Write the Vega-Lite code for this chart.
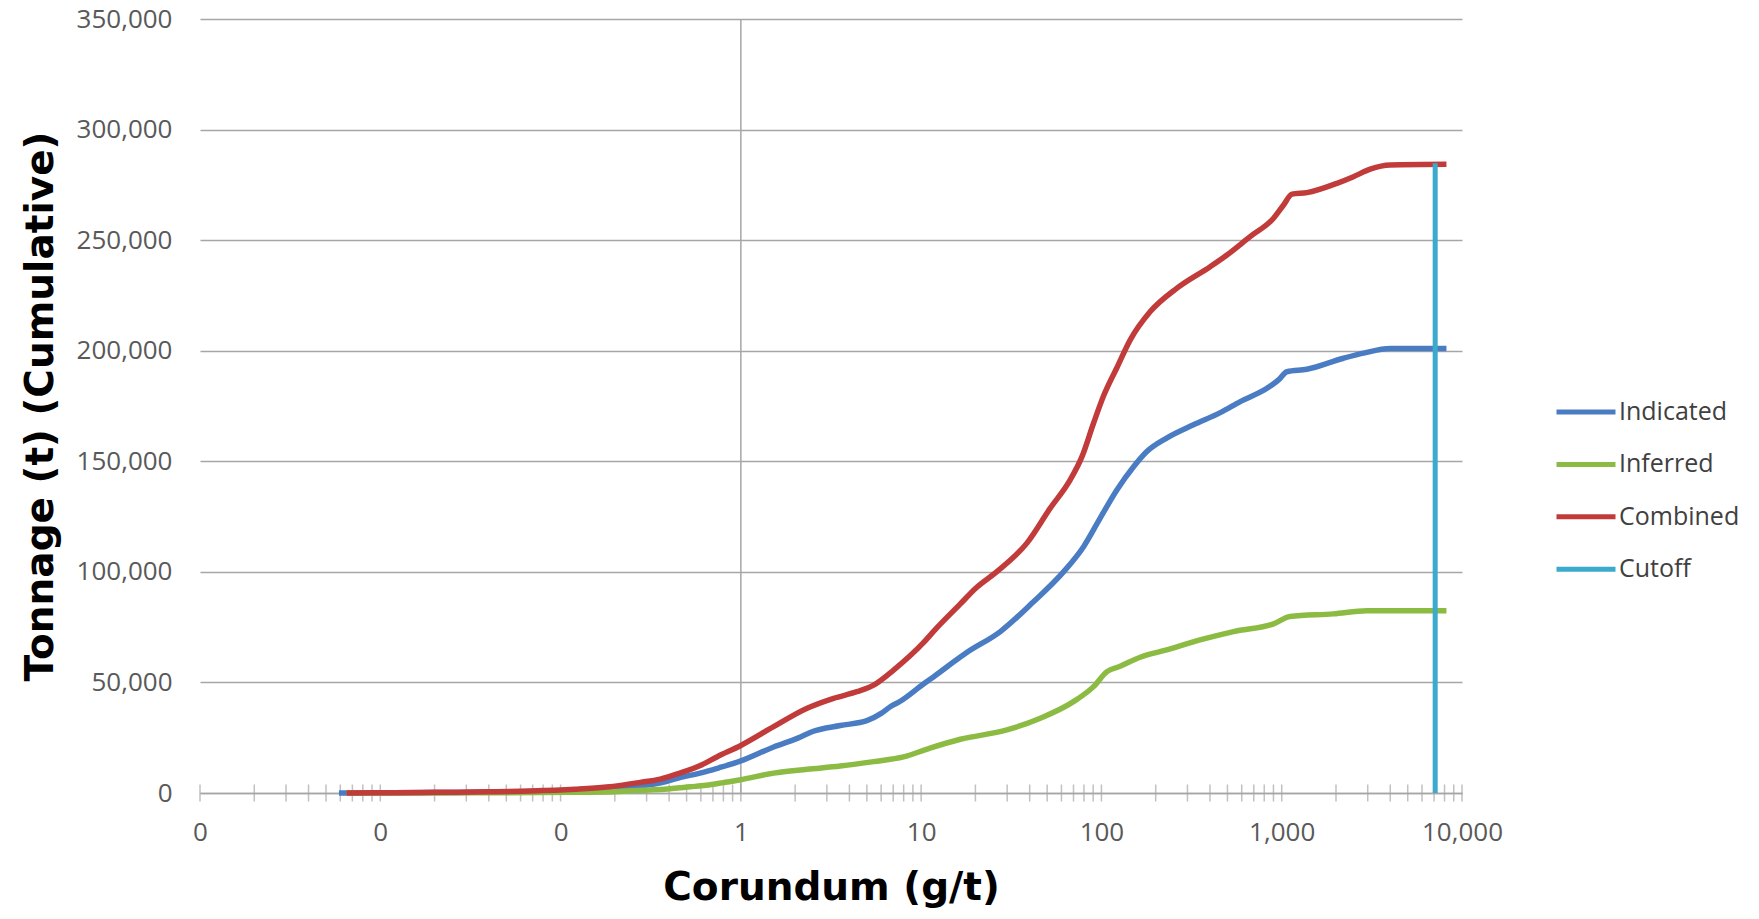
{
  "$schema": "https://vega.github.io/schema/vega-lite/v6.json",
  "width": 1262,
  "height": 774,
  "autosize": {"type": "none"},
  "padding": {"left": 200, "top": 19, "right": 297, "bottom": 126},
  "background": "white",
  "config": {"view": {"stroke": null}, "font": "Open Sans"},
  "datasets": {
    "curves": [
      {"series": "Indicated", "grade": 0.0059, "tonnage": 0},
      {"series": "Indicated", "grade": 0.012, "tonnage": 80},
      {"series": "Indicated", "grade": 0.02, "tonnage": 200},
      {"series": "Indicated", "grade": 0.04, "tonnage": 400},
      {"series": "Indicated", "grade": 0.07, "tonnage": 650},
      {"series": "Indicated", "grade": 0.12, "tonnage": 1200},
      {"series": "Indicated", "grade": 0.18, "tonnage": 1900},
      {"series": "Indicated", "grade": 0.28, "tonnage": 3300},
      {"series": "Indicated", "grade": 0.36, "tonnage": 4600},
      {"series": "Indicated", "grade": 0.45, "tonnage": 6800},
      {"series": "Indicated", "grade": 0.61, "tonnage": 9200},
      {"series": "Indicated", "grade": 0.75, "tonnage": 11300},
      {"series": "Indicated", "grade": 1, "tonnage": 14500},
      {"series": "Indicated", "grade": 1.52, "tonnage": 20800},
      {"series": "Indicated", "grade": 2.07, "tonnage": 24800},
      {"series": "Indicated", "grade": 2.5, "tonnage": 27800},
      {"series": "Indicated", "grade": 3.56, "tonnage": 30500},
      {"series": "Indicated", "grade": 5, "tonnage": 32700},
      {"series": "Indicated", "grade": 6, "tonnage": 36000},
      {"series": "Indicated", "grade": 6.74, "tonnage": 39000},
      {"series": "Indicated", "grade": 7.66, "tonnage": 41500},
      {"series": "Indicated", "grade": 10.3, "tonnage": 49300},
      {"series": "Indicated", "grade": 11.7, "tonnage": 52500},
      {"series": "Indicated", "grade": 16.5, "tonnage": 61500},
      {"series": "Indicated", "grade": 17.9, "tonnage": 63500},
      {"series": "Indicated", "grade": 27.5, "tonnage": 73000},
      {"series": "Indicated", "grade": 42, "tonnage": 86500},
      {"series": "Indicated", "grade": 61.6, "tonnage": 100000},
      {"series": "Indicated", "grade": 79.6, "tonnage": 111400},
      {"series": "Indicated", "grade": 98.4, "tonnage": 124300},
      {"series": "Indicated", "grade": 121.8, "tonnage": 137000},
      {"series": "Indicated", "grade": 150.7, "tonnage": 147500},
      {"series": "Indicated", "grade": 178.6, "tonnage": 154400},
      {"series": "Indicated", "grade": 230, "tonnage": 160500},
      {"series": "Indicated", "grade": 324, "tonnage": 166500},
      {"series": "Indicated", "grade": 456, "tonnage": 172000},
      {"series": "Indicated", "grade": 589, "tonnage": 177000},
      {"series": "Indicated", "grade": 828, "tonnage": 183000},
      {"series": "Indicated", "grade": 960, "tonnage": 186800},
      {"series": "Indicated", "grade": 1069, "tonnage": 190500},
      {"series": "Indicated", "grade": 1380, "tonnage": 191600},
      {"series": "Indicated", "grade": 2200, "tonnage": 196600},
      {"series": "Indicated", "grade": 2840, "tonnage": 198900},
      {"series": "Indicated", "grade": 4000, "tonnage": 201000},
      {"series": "Indicated", "grade": 8200, "tonnage": 201000},
      {"series": "Inferred", "grade": 0.0065, "tonnage": 0},
      {"series": "Inferred", "grade": 0.02, "tonnage": 50},
      {"series": "Inferred", "grade": 0.05, "tonnage": 120},
      {"series": "Inferred", "grade": 0.11, "tonnage": 300},
      {"series": "Inferred", "grade": 0.2, "tonnage": 600},
      {"series": "Inferred", "grade": 0.28, "tonnage": 1200},
      {"series": "Inferred", "grade": 0.374, "tonnage": 1700},
      {"series": "Inferred", "grade": 0.524, "tonnage": 2800},
      {"series": "Inferred", "grade": 0.64, "tonnage": 3500},
      {"series": "Inferred", "grade": 0.8, "tonnage": 4700},
      {"series": "Inferred", "grade": 1, "tonnage": 6000},
      {"series": "Inferred", "grade": 1.52, "tonnage": 9000},
      {"series": "Inferred", "grade": 2.33, "tonnage": 10700},
      {"series": "Inferred", "grade": 3.56, "tonnage": 12200},
      {"series": "Inferred", "grade": 5.45, "tonnage": 14200},
      {"series": "Inferred", "grade": 7.98, "tonnage": 16300},
      {"series": "Inferred", "grade": 11.2, "tonnage": 20300},
      {"series": "Inferred", "grade": 16.5, "tonnage": 24300},
      {"series": "Inferred", "grade": 29.9, "tonnage": 28500},
      {"series": "Inferred", "grade": 45.8, "tonnage": 33800},
      {"series": "Inferred", "grade": 70, "tonnage": 41300},
      {"series": "Inferred", "grade": 90.4, "tonnage": 48100},
      {"series": "Inferred", "grade": 107.4, "tonnage": 54900},
      {"series": "Inferred", "grade": 127, "tonnage": 57300},
      {"series": "Inferred", "grade": 164, "tonnage": 61400},
      {"series": "Inferred", "grade": 230, "tonnage": 64700},
      {"series": "Inferred", "grade": 352, "tonnage": 69200},
      {"series": "Inferred", "grade": 540, "tonnage": 73000},
      {"series": "Inferred", "grade": 901, "tonnage": 76500},
      {"series": "Inferred", "grade": 1114, "tonnage": 79800},
      {"series": "Inferred", "grade": 1937, "tonnage": 81000},
      {"series": "Inferred", "grade": 2965, "tonnage": 82400},
      {"series": "Inferred", "grade": 8200, "tonnage": 82400},
      {"series": "Combined", "grade": 0.0065, "tonnage": 0},
      {"series": "Combined", "grade": 0.012, "tonnage": 120},
      {"series": "Combined", "grade": 0.02, "tonnage": 300},
      {"series": "Combined", "grade": 0.04, "tonnage": 550},
      {"series": "Combined", "grade": 0.068, "tonnage": 900},
      {"series": "Combined", "grade": 0.12, "tonnage": 1700},
      {"series": "Combined", "grade": 0.18, "tonnage": 2700},
      {"series": "Combined", "grade": 0.277, "tonnage": 4800},
      {"series": "Combined", "grade": 0.357, "tonnage": 6300},
      {"series": "Combined", "grade": 0.45, "tonnage": 8800},
      {"series": "Combined", "grade": 0.609, "tonnage": 12800},
      {"series": "Combined", "grade": 0.736, "tonnage": 16300},
      {"series": "Combined", "grade": 1, "tonnage": 21500},
      {"series": "Combined", "grade": 1.52, "tonnage": 30000},
      {"series": "Combined", "grade": 2.33, "tonnage": 38300},
      {"series": "Combined", "grade": 3.27, "tonnage": 42800},
      {"series": "Combined", "grade": 4.4, "tonnage": 45800},
      {"series": "Combined", "grade": 5.45, "tonnage": 48800},
      {"series": "Combined", "grade": 7.03, "tonnage": 55600},
      {"series": "Combined", "grade": 10.3, "tonnage": 68000},
      {"series": "Combined", "grade": 12, "tonnage": 74000},
      {"series": "Combined", "grade": 16.5, "tonnage": 85500},
      {"series": "Combined", "grade": 20, "tonnage": 92500},
      {"series": "Combined", "grade": 26.3, "tonnage": 100100},
      {"series": "Combined", "grade": 38.6, "tonnage": 113000},
      {"series": "Combined", "grade": 52, "tonnage": 128800},
      {"series": "Combined", "grade": 67.1, "tonnage": 141600},
      {"series": "Combined", "grade": 78, "tonnage": 152100},
      {"series": "Combined", "grade": 90.4, "tonnage": 167200},
      {"series": "Combined", "grade": 102.7, "tonnage": 179500},
      {"series": "Combined", "grade": 121.8, "tonnage": 192300},
      {"series": "Combined", "grade": 144.5, "tonnage": 204900},
      {"series": "Combined", "grade": 186.6, "tonnage": 217700},
      {"series": "Combined", "grade": 262.4, "tonnage": 228300},
      {"series": "Combined", "grade": 401, "tonnage": 238000},
      {"series": "Combined", "grade": 497, "tonnage": 243300},
      {"series": "Combined", "grade": 668, "tonnage": 251600},
      {"series": "Combined", "grade": 901, "tonnage": 259900},
      {"series": "Combined", "grade": 1024, "tonnage": 265900},
      {"series": "Combined", "grade": 1140, "tonnage": 270800},
      {"series": "Combined", "grade": 1380, "tonnage": 271500},
      {"series": "Combined", "grade": 2025, "tonnage": 275700},
      {"series": "Combined", "grade": 2500, "tonnage": 278700},
      {"series": "Combined", "grade": 3095, "tonnage": 282100},
      {"series": "Combined", "grade": 4000, "tonnage": 284000},
      {"series": "Combined", "grade": 8200, "tonnage": 284300}
    ],
    "cutoff": [
      {"series": "Cutoff", "grade": 7100, "tonnage": 0},
      {"series": "Cutoff", "grade": 7100, "tonnage": 284800}
    ],
    "vaxis": [
      {"grade": 1, "tonnage": 0},
      {"grade": 1, "tonnage": 350000}
    ],
    "ticks": [
      {"grade": 0.001, "tonnage": 0}, {"grade": 0.002, "tonnage": 0}, {"grade": 0.003, "tonnage": 0}, {"grade": 0.004, "tonnage": 0}, {"grade": 0.005, "tonnage": 0}, {"grade": 0.006, "tonnage": 0}, {"grade": 0.007, "tonnage": 0}, {"grade": 0.008, "tonnage": 0}, {"grade": 0.009, "tonnage": 0},
      {"grade": 0.01, "tonnage": 0}, {"grade": 0.02, "tonnage": 0}, {"grade": 0.03, "tonnage": 0}, {"grade": 0.04, "tonnage": 0}, {"grade": 0.05, "tonnage": 0}, {"grade": 0.06, "tonnage": 0}, {"grade": 0.07, "tonnage": 0}, {"grade": 0.08, "tonnage": 0}, {"grade": 0.09, "tonnage": 0},
      {"grade": 0.1, "tonnage": 0}, {"grade": 0.2, "tonnage": 0}, {"grade": 0.3, "tonnage": 0}, {"grade": 0.4, "tonnage": 0}, {"grade": 0.5, "tonnage": 0}, {"grade": 0.6, "tonnage": 0}, {"grade": 0.7, "tonnage": 0}, {"grade": 0.8, "tonnage": 0}, {"grade": 0.9, "tonnage": 0},
      {"grade": 1, "tonnage": 0}, {"grade": 2, "tonnage": 0}, {"grade": 3, "tonnage": 0}, {"grade": 4, "tonnage": 0}, {"grade": 5, "tonnage": 0}, {"grade": 6, "tonnage": 0}, {"grade": 7, "tonnage": 0}, {"grade": 8, "tonnage": 0}, {"grade": 9, "tonnage": 0},
      {"grade": 10, "tonnage": 0}, {"grade": 20, "tonnage": 0}, {"grade": 30, "tonnage": 0}, {"grade": 40, "tonnage": 0}, {"grade": 50, "tonnage": 0}, {"grade": 60, "tonnage": 0}, {"grade": 70, "tonnage": 0}, {"grade": 80, "tonnage": 0}, {"grade": 90, "tonnage": 0},
      {"grade": 100, "tonnage": 0}, {"grade": 200, "tonnage": 0}, {"grade": 300, "tonnage": 0}, {"grade": 400, "tonnage": 0}, {"grade": 500, "tonnage": 0}, {"grade": 600, "tonnage": 0}, {"grade": 700, "tonnage": 0}, {"grade": 800, "tonnage": 0}, {"grade": 900, "tonnage": 0},
      {"grade": 1000, "tonnage": 0}, {"grade": 2000, "tonnage": 0}, {"grade": 3000, "tonnage": 0}, {"grade": 4000, "tonnage": 0}, {"grade": 5000, "tonnage": 0}, {"grade": 6000, "tonnage": 0}, {"grade": 7000, "tonnage": 0}, {"grade": 8000, "tonnage": 0}, {"grade": 9000, "tonnage": 0},
      {"grade": 10000, "tonnage": 0}
    ]
  },
  "encoding": {
    "x": {
      "field": "grade", "type": "quantitative",
      "scale": {"type": "log", "domain": [0.001, 10000], "nice": false},
      "axis": {
        "title": "Corundum (g/t)",
        "values": [0.001, 0.01, 0.1, 1, 10, 100, 1000, 10000],
        "labelExpr": "datum.value < 1 ? '0' : format(datum.value, ',')",
        "labelFlush": false, "labelOverlap": false,
        "grid": false, "ticks": false,
        "domain": true, "domainColor": "#A6A6A6", "domainWidth": 1.5,
        "labelFont": "Open Sans", "labelFontSize": 26, "labelColor": "#595959", "labelPadding": 26,
        "titleFont": "DejaVu Sans", "titleFontSize": 39, "titleFontWeight": "bold", "titleColor": "#000000", "titlePadding": 23
      }
    },
    "y": {
      "field": "tonnage", "type": "quantitative",
      "scale": {"domain": [0, 350000], "nice": false},
      "axis": {
        "title": "Tonnage (t) (Cumulative)",
        "values": [0, 50000, 100000, 150000, 200000, 250000, 300000, 350000],
        "labelExpr": "format(datum.value, ',.0f')", "labelOverlap": false,
        "grid": true, "gridColor": "#A6A6A6", "gridWidth": 1.5,
        "domain": false, "ticks": false,
        "labelFont": "Open Sans", "labelFontSize": 26, "labelColor": "#595959", "labelPadding": 28,
        "titleFont": "DejaVu Sans", "titleFontSize": 39, "titleFontWeight": "bold", "titleColor": "#000000", "titlePadding": 16
      }
    }
  },
  "layer": [
    {
      "data": {"name": "vaxis"},
      "mark": {"type": "line", "color": "#A6A6A6", "strokeWidth": 1.5}
    },
    {
      "data": {"name": "ticks"},
      "mark": {"type": "tick", "orient": "vertical", "size": 17, "thickness": 1.5, "color": "#A6A6A6"}
    },
    {
      "data": {"name": "curves"},
      "mark": {"type": "line", "strokeWidth": 5.5, "interpolate": "monotone"},
      "encoding": {
        "color": {
          "field": "series", "type": "nominal",
          "scale": {"domain": ["Indicated", "Inferred", "Combined", "Cutoff"], "range": ["#4A7CC4", "#8CBB43", "#C23B3B", "#3BAACC"]},
          "legend": {
            "orient": "none", "legendX": 1354, "legendY": 368, "title": null,
            "symbolType": "stroke", "symbolSize": 3481, "symbolStrokeWidth": 5,
            "labelFont": "Open Sans", "labelFontSize": 25, "labelColor": "#404040", "labelOffset": 1,
            "clipHeight": 50, "rowPadding": 2.4
          }
        }
      }
    },
    {
      "data": {"name": "cutoff"},
      "mark": {"type": "line", "strokeWidth": 5},
      "encoding": {
        "color": {"field": "series", "type": "nominal"}
      }
    }
  ]
}
